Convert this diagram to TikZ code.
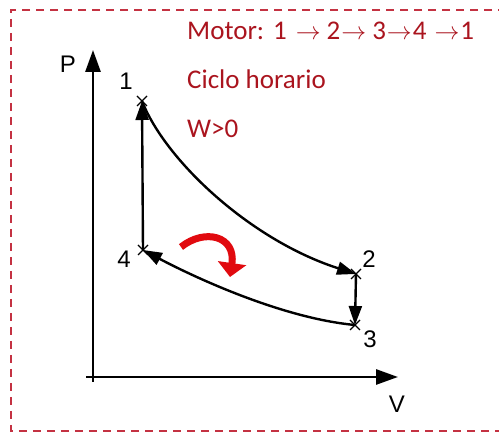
\documentclass[tikz,border=0pt]{standalone}
\usepackage{fontspec}
\setmainfont{Carlito}
\newfontfamily\axfont{Liberation Sans}
\usetikzlibrary{arrows.meta}
\definecolor{bord}{RGB}{196,50,66}
\definecolor{txtred}{RGB}{170,20,30}
\definecolor{arrred}{RGB}{225,10,15}
\tikzset{
  axis/.style={line width=2.8pt,-{Triangle[length=22pt,width=15pt]}},
  cyc/.style={line width=2.4pt,-{Triangle[length=19pt,width=13pt]}},
  lab/.style={font=\axfont\fontsize{24}{24}\selectfont,inner sep=0pt},
  txt/.style={font=\fontsize{27}{27}\selectfont,text=txtred,anchor=west,inner sep=0pt},
  xmark/.style={line width=1.4pt}
}
\newcommand{\ra}{\ensuremath{\rightarrow}}
\begin{document}
\begin{tikzpicture}[x=1pt,y=-1pt]
\useasboundingbox (0,0) rectangle (499,435);
% border
\draw[bord,line width=2pt,dash pattern=on 8pt off 6pt] (520,10) -- (11,10) -- (11,431) -- (520,431);
% axes
\coordinate (o1) at (93,382);
\coordinate (pt) at (93,50);
\coordinate (o2) at (86,377);
\coordinate (vt) at (398,377);
\draw[axis] (o1) -- (pt);
\draw[axis] (o2) -- (vt);
\node[lab] (P) at (68,64) {P};
\node[lab] (V) at (397,404) {V};
% points
\coordinate (p1) at (142,101);
\coordinate (p2) at (356,274);
\coordinate (p3) at (355,325);
\coordinate (p4) at (143,250);
\foreach \p in {p1,p2,p3,p4}
  \draw[xmark] ([shift={(-5,-5)}]\p) -- ([shift={(5,5)}]\p) ([shift={(-5,5)}]\p) -- ([shift={(5,-5)}]\p);
\node[lab] (l1) at (126,81) {1};
\node[lab] (l2) at (369,259) {2};
\node[lab] (l3) at (370,339) {3};
\node[lab] (l4) at (124,259) {4};
% cycle
\draw[cyc] (p1) .. controls (165,160) and (250,240) .. (p2);
\draw[cyc] (p2) -- (p3);
\draw[cyc] (p3) .. controls (280,318) and (190,275) .. (p4);
\draw[cyc] (p4) -- (p1);
% red rotation arrow
\coordinate (ra) at (181,247);
\coordinate (rb) at (230,277);
\draw[arrred,line width=7pt,-{Triangle[length=14pt,width=28pt]}] (ra) .. controls (205,228) and (236,236) .. (rb);
% texts
\node[txt] (t1) at (187,31) {Motor:\hspace{9pt}1\hspace{9pt}\ra\hspace{6pt}2\hspace{1pt}\ra\hspace{6pt}3\hspace{1pt}\ra\hspace{1pt}4\hspace{8pt}\ra\hspace{1pt}1};
\node[txt] (t2) at (187,79) {Ciclo horario};
\node[txt] (t3) at (187,129) {W>0};
\end{tikzpicture}
\end{document}
